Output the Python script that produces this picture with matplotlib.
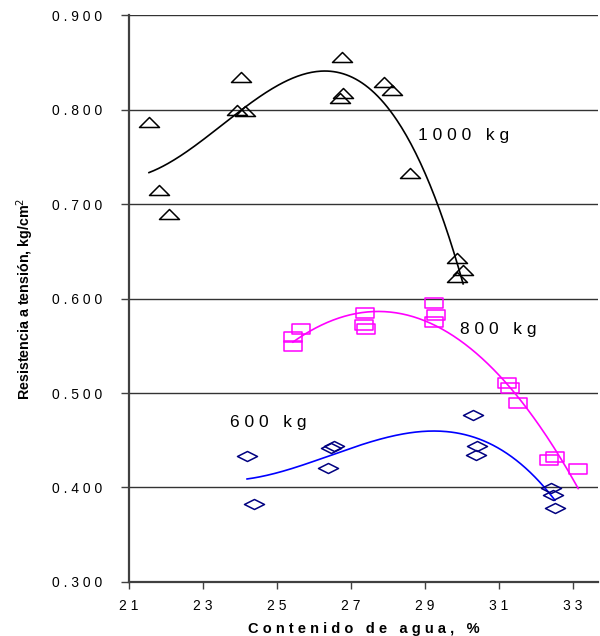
import numpy as np
import matplotlib
matplotlib.use("Agg")
import matplotlib.pyplot as plt
from matplotlib.path import Path

plt.rcParams['font.family'] = ['Liberation Sans', 'DejaVu Sans']

# ===== Datos: 1000 kg (triangulos) =====
x_1000 = [21.54, 21.81, 22.08, 24.03, 23.92, 24.14, 26.76, 27.89, 28.11,
          26.78, 26.70, 28.59, 29.86, 30.03, 29.86]
y_1000 = [0.787, 0.715, 0.690, 0.835, 0.800, 0.799, 0.856, 0.829, 0.821,
          0.818, 0.812, 0.733, 0.643, 0.630, 0.623]

# ===== Datos: 800 kg (cuadrados) =====
x_800 = [25.43, 25.43, 25.65, 27.38, 27.35, 27.40, 29.24, 29.30, 29.24,
         31.22, 31.30, 31.51, 32.35, 32.51, 33.14]
y_800 = [0.559, 0.550, 0.568, 0.585, 0.572, 0.568, 0.595, 0.583, 0.575,
         0.511, 0.505, 0.489, 0.429, 0.432, 0.420]

# ===== Datos: 600 kg (rombos) =====
x_600 = [24.19, 24.38, 26.45, 26.55, 26.38, 30.30, 30.41, 30.38, 32.41,
         32.46, 32.51]
y_600 = [0.433, 0.383, 0.442, 0.444, 0.421, 0.477, 0.444, 0.434, 0.399,
         0.392, 0.378]

x_ticks = [21, 23, 25, 27, 29, 31, 33]
y_ticks = [0.3, 0.4, 0.5, 0.6, 0.7, 0.8, 0.9]


def espaciado(texto):
    return " ".join(texto)


# marcadores aplanados como en Excel
tri = Path([(-1, -0.5), (1, -0.5), (0, 0.5), (-1, -0.5)], closed=True)
rect = Path([(-1, -0.55), (1, -0.55), (1, 0.55), (-1, 0.55), (-1, -0.55)], closed=True)
rombo = Path([(-1, 0), (0, 0.5), (1, 0), (0, -0.5), (-1, 0)], closed=True)

fig = plt.figure(figsize=(6, 6.36), dpi=100)
ax = fig.add_axes([0.215, 0.085, 0.782, 0.891])

series = [
    (x_1000, y_1000, tri, "black", "black", 14.4),
    (x_800, y_800, rect, "#FF00FF", "#FF00FF", 12.5),
    (x_600, y_600, rombo, "#000080", "#0000FF", 14.4),
]

for xs, ys, mk, mcol, lcol, ms in series:
    ax.plot(xs, ys, linestyle="none", marker=mk, markersize=ms,
            markerfacecolor="none", markeredgecolor=mcol, markeredgewidth=1.1, zorder=3)
    # linea de tendencia polinomica
    coef = np.polyfit(xs, ys, 3)
    xf = np.linspace(min(xs), max(xs), 200)
    ax.plot(xf, np.polyval(coef, xf), color=lcol, linewidth=1.2, zorder=2)

ax.text(28.81, 0.773, espaciado("1000") + "   " + espaciado("kg"), fontsize=12.5,
        va="center", ha="left")
ax.text(29.95, 0.567, espaciado("800") + "   " + espaciado("kg"), fontsize=12.5,
        va="center", ha="left")
ax.text(23.73, 0.469, espaciado("600") + "   " + espaciado("kg"), fontsize=12.5,
        va="center", ha="left")

ax.set_xlim(21, 33.68)
ax.set_ylim(0.3, 0.9)
ax.set_xticks(x_ticks)
ax.set_xticklabels([espaciado(str(t)) for t in x_ticks], fontsize=10)
ax.set_yticks(y_ticks)
ax.set_yticklabels([espaciado(f"{t:.3f}") for t in y_ticks], fontsize=10)
ax.tick_params(axis="y", direction="out", length=6, width=1, color="#404040", pad=13)
ax.tick_params(axis="x", direction="out", length=5, width=1, color="#404040", pad=7)

ax.yaxis.grid(True, color="#333333", linewidth=1.0)
ax.set_axisbelow(True)
for s in ["top", "right"]:
    ax.spines[s].set_visible(False)
for s in ["left", "bottom"]:
    ax.spines[s].set_color("#404040")
    ax.spines[s].set_linewidth(1.6)

ax.set_ylabel("Resistencia a tensión, kg/cm$^2$", fontsize=10.3, fontweight="bold", labelpad=12)
ax.set_xlabel("C o n t e n i d o   d e   a g u a ,   %", fontsize=10.5, fontweight="bold",
              labelpad=7)

fig.savefig("out.png", dpi=100)
